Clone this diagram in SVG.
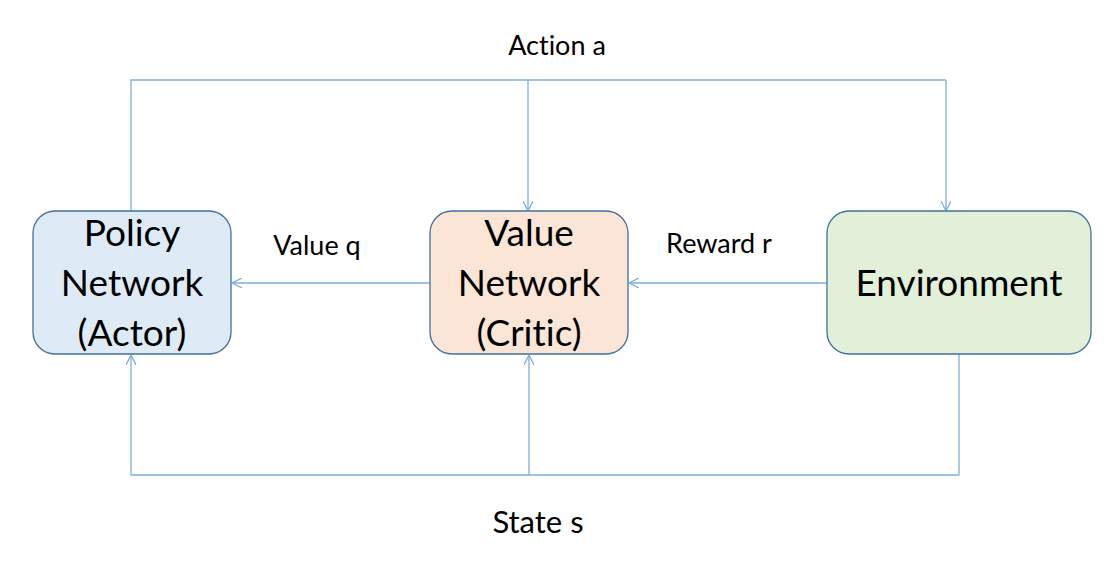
<svg xmlns="http://www.w3.org/2000/svg" width="1108" height="562" viewBox="0 0 1108 562">
<style>
text{font-variant-ligatures:none;font-feature-settings:"liga" 0}
.box{stroke:#41719C;stroke-width:1.3}
.node{font-family:Lato,"Open Sans","Liberation Sans",sans-serif;font-size:37px;fill:#000;text-anchor:middle}
.lbl{font-family:Lato,"Open Sans","Liberation Sans",sans-serif;font-size:27px;fill:#000;text-anchor:middle}
.c{fill:none;stroke:#7EAEDC;stroke-width:1.3}
</style>
<defs>
<marker id="ah" viewBox="0 0 10 10" refX="10" refY="5" markerWidth="10" markerHeight="10" markerUnits="userSpaceOnUse" orient="auto">
<path d="M0,0 L10,5 L0,10" fill="none" stroke="#7EAEDC" stroke-width="1.3"/>
</marker>
</defs>
<rect width="1108" height="562" fill="#fff"/>
<g id="connectors">
<path class="c" d="M131,211 V80 H946"/>
<path class="c" d="M528,80 V211" marker-end="url(#ah)"/>
<path class="c" d="M946,80 V211" marker-end="url(#ah)"/>
<path class="c" d="M430,283 H232" marker-end="url(#ah)"/>
<path class="c" d="M827,283 H629" marker-end="url(#ah)"/>
<path class="c" d="M959,354 V475 H131 V355" marker-end="url(#ah)"/>
<path class="c" d="M529,475 V355" marker-end="url(#ah)"/>
<text class="lbl" x="557" y="55">Action a</text>
<text class="lbl" x="317" y="255">Value q</text>
<text class="lbl" x="719" y="253">Reward r</text>
<text class="lbl" x="538" y="533" style="font-size:31px">State s</text>
</g>
<g id="policy">
<rect class="box" x="33" y="211" width="198" height="143" rx="22" fill="#DEEBF7"/>
<text class="node" x="132" y="246">Policy</text>
<text class="node" x="132" y="296">Network</text>
<text class="node" x="132" y="346">(Actor)</text>
</g>
<g id="value">
<rect class="box" x="430" y="211" width="198" height="143" rx="22" fill="#FBE5D6"/>
<text class="node" x="529" y="246">Value</text>
<text class="node" x="529" y="296">Network</text>
<text class="node" x="529" y="346">(Critic)</text>
</g>
<g id="environment">
<rect class="box" x="827" y="211" width="264" height="143" rx="22" fill="#E2F0D9"/>
<text class="node" x="959" y="296">Environment</text>
</g>
</svg>
